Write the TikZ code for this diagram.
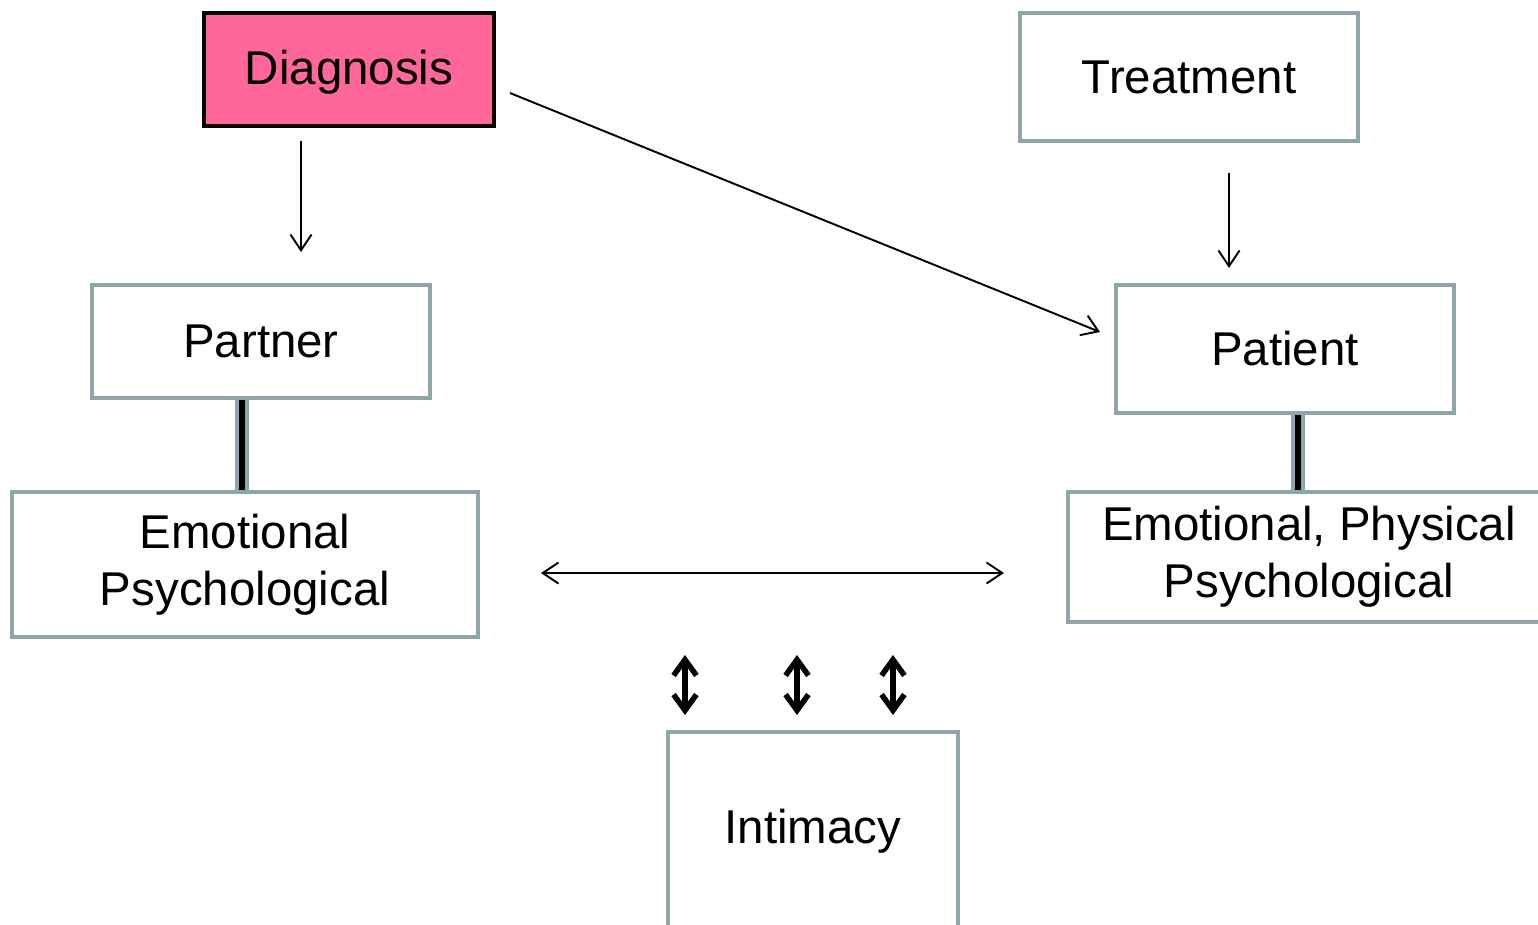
\documentclass[tikz,border=0pt]{standalone}
\usepackage{fontspec}
\setmainfont{Liberation Sans}
\usetikzlibrary{arrows.meta}
\definecolor{boxgray}{RGB}{143,166,168}
\definecolor{diagpink}{RGB}{255,102,153}
\begin{document}
\begin{tikzpicture}[x=0.02cm, y=-0.02cm,
    box/.style={draw=boxgray, line width=2.3pt, align=center, inner sep=0pt,
      font=\fontsize{27}{32.5}\selectfont},
    thinarrow/.style={line width=1.1pt, -{Straight Barb[length=9pt,width=12pt]}},
    bigarrow/.style={line width=3.1pt, {Straight Barb[length=9pt,width=13pt]}-{Straight Barb[length=9pt,width=13pt]}},
    pipe/.style={draw=boxgray, double=black, double distance=3.2pt, line width=2.4pt}]
    \useasboundingbox (0,0) rectangle (1538,924);

    % 箱
    \node[box, draw=black, fill=diagpink, minimum width=5.8cm, minimum height=2.26cm, text depth=0.1cm] (diag) at (349,69.5) {Diagnosis};
    \node[box, minimum width=6.76cm, minimum height=2.56cm] (treat) at (1189,77) {Treatment};
    \node[box, minimum width=6.76cm, minimum height=2.26cm] (partner) at (261,341.5) {Partner};
    \node[box, minimum width=6.76cm, minimum height=2.56cm] (patient) at (1285,349) {Patient};
    \node[box, minimum width=9.32cm, minimum height=2.9cm] (emoL) at (245,564.5) {Emotional\\Psychological};
    \node[box, minimum width=9.64cm, minimum height=2.6cm] (emoR) at (1309,557) {Emotional, Physical\\Psychological};
    \node[box, minimum width=5.8cm, minimum height=3.96cm] (intim) at (813,831) {Intimacy};

    % 矢印の端点
    \coordinate (d1) at (301,141);
    \coordinate (d2) at (301,252);
    \coordinate (d3) at (510,93);
    \coordinate (d4) at (1100,332);
    \coordinate (t1) at (1229,173);
    \coordinate (t2) at (1229,268);
    \coordinate (h1) at (541,573);
    \coordinate (h2) at (1004,573);

    % 線
    \draw[thinarrow] (d1) -- (d2);
    \draw[thinarrow] (d3) -- (d4);
    \draw[thinarrow] (t1) -- (t2);
    \draw[thinarrow, {Straight Barb[length=9pt,width=12pt]}-{Straight Barb[length=9pt,width=12pt]}] (h1) -- (h2);
    \draw[pipe] ([xshift=-0.38cm]partner.south) -- ([xshift=-0.38cm]partner.south |- emoL.north);
    \draw[pipe] ([xshift=0.26cm]patient.south) -- ([xshift=0.26cm]patient.south |- emoR.north);
    \foreach \x in {685,797,893}
      \draw[bigarrow] (\x,655) -- (\x,715);
\end{tikzpicture}
\end{document}
